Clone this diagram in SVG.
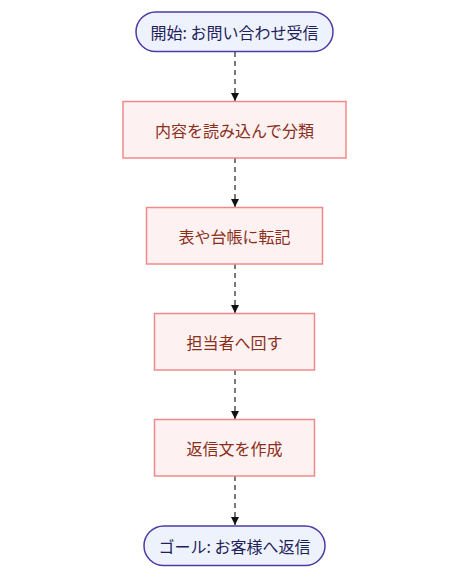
<svg xmlns="http://www.w3.org/2000/svg" width="469" height="578" viewBox="0 0 469 578">
<defs>
<style>
.term rect{fill:#eef2fd;stroke:#4b3ba3;stroke-width:1.5}
.term text{fill:#1f1f5a}
.step rect{fill:#fdf1f1;stroke:#f08a8a;stroke-width:1.5}
.step text{fill:#8b2e1a}
text{font-family:"Noto Sans CJK JP","Noto Sans CJK SC",sans-serif;font-size:16px;text-anchor:middle;dominant-baseline:central}
.edge{stroke:#222;stroke-width:1.2;stroke-dasharray:5 4;fill:none}
</style>
<marker id="arr" viewBox="0 0 10 10" refX="10" refY="5" markerWidth="8" markerHeight="8" markerUnits="userSpaceOnUse" orient="auto">
<path d="M0,0 L10,5 L0,10 z" fill="#111"/>
</marker>
</defs>
<rect width="469" height="578" fill="#fff"/>
<g id="connectors">
<path class="edge" d="M235,52 L235,101" marker-end="url(#arr)"/>
<path class="edge" d="M235,158 L235,207" marker-end="url(#arr)"/>
<path class="edge" d="M235,264 L235,313" marker-end="url(#arr)"/>
<path class="edge" d="M235,370 L235,419" marker-end="url(#arr)"/>
<path class="edge" d="M235,476 L235,525" marker-end="url(#arr)"/>
</g>
<g id="start" class="term">
<rect x="136" y="12" width="197" height="39.5" rx="19.75"/>
<text x="234.5" y="31.5">開始: お問い合わせ受信</text>
</g>
<g id="classify" class="step">
<rect x="123" y="101.5" width="223" height="56.5"/>
<text x="234.5" y="130">内容を読み込んで分類</text>
</g>
<g id="transcribe" class="step">
<rect x="146.5" y="207.5" width="176" height="56.5"/>
<text x="234.5" y="236">表や台帳に転記</text>
</g>
<g id="assign" class="step">
<rect x="154.5" y="313.5" width="160" height="56.5"/>
<text x="234.5" y="342">担当者へ回す</text>
</g>
<g id="draft" class="step">
<rect x="154.5" y="419.5" width="160" height="56.5"/>
<text x="234.5" y="448">返信文を作成</text>
</g>
<g id="goal" class="term">
<rect x="144" y="526" width="181" height="39.5" rx="19.75"/>
<text x="234.5" y="546">ゴール: お客様へ返信</text>
</g>
</svg>
